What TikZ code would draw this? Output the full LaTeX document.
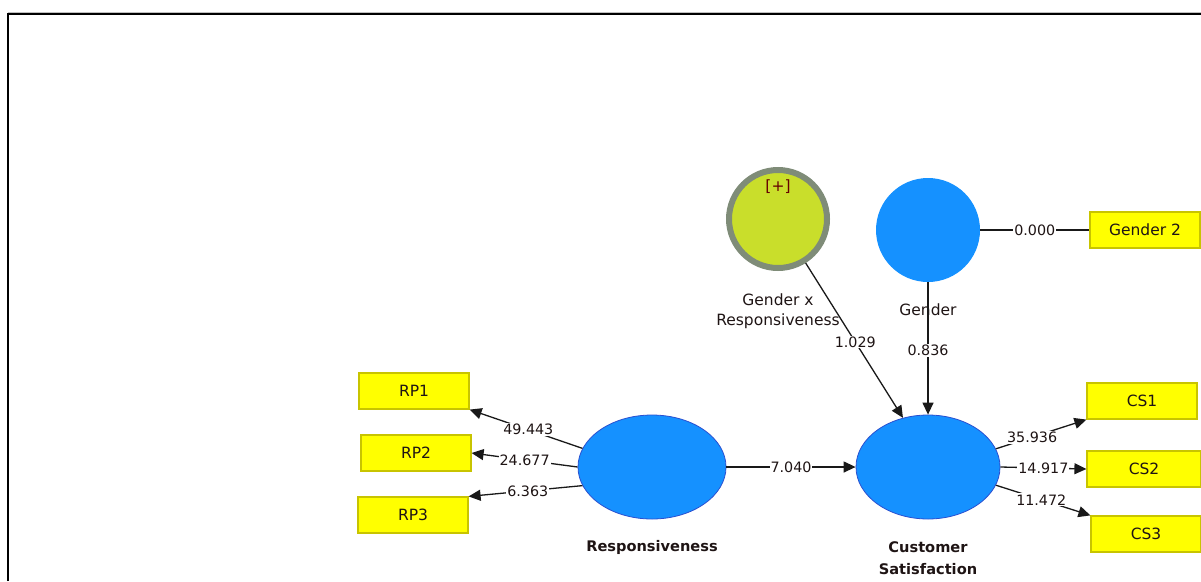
\documentclass[tikz,border=0pt]{standalone}
\usepackage{fontspec}
\setmainfont{DejaVu Sans}
\usetikzlibrary{arrows.meta,shapes.geometric}
\definecolor{lvblue}{HTML}{1591FF}
\definecolor{lvedge}{HTML}{2A4FD0}
\definecolor{ind}{HTML}{FFFF00}
\definecolor{indedge}{HTML}{C8C400}
\definecolor{modfill}{HTML}{C9DE2B}
\definecolor{modring}{HTML}{7F8C78}
\definecolor{txt}{HTML}{1E1414}
\tikzset{
  lv/.style={ellipse,fill=lvblue,draw=lvedge,line width=0.8pt,minimum width=148pt,minimum height=104pt,inner sep=0pt},
  indbox/.style={rectangle,fill=ind,draw=indedge,line width=1.2pt,minimum width=110pt,minimum height=36pt,inner sep=0pt,font=\fontsize{15.5}{17}\selectfont,text=txt},
  lbl/.style={font=\fontsize{15.5}{17}\selectfont,text=txt,inner sep=0.5pt},
  val/.style={fill=white,font=\fontsize{14.3}{16}\selectfont,text=txt,inner sep=1pt},
  blbl/.style={font=\bfseries\fontsize{14.6}{22}\selectfont,text=txt,align=center,inner sep=0pt},
  con/.style={line width=1.3pt,draw=black!90},
  arr/.style={con,-{Triangle[length=12pt,width=11pt]}},
}
\begin{document}
\begin{tikzpicture}[x=1pt,y=-1pt]
\useasboundingbox (0,0) rectangle (1201,581);
% frame
\draw[black!25,line width=1pt] (8,12) -- (1201,12);
\draw[black,line width=2pt] (8,581) -- (8,14) -- (1201,14);

% latent variables
\node[lv] (resp) at (652,467) {};
\node[lv,minimum width=144pt] (cs) at (928,467) {};
\node[circle,fill=lvblue,minimum size=104pt,inner sep=0pt] (gender) at (928,230) {};
\node[circle,fill=modfill,draw=modring,line width=6pt,minimum size=98pt,inner sep=0pt] (gxr) at (778,219) {};
\node[lbl,text=black!60!red] (plus) at (778,187) {[+]};

% labels
\node[lbl,align=center] (gxrlbl) at (778,311) {Gender x\\[3pt]Responsiveness};
\node[lbl] (genlbl) at (928,310) {Gender};
\node[blbl] (resplbl) at (652,547) {Responsiveness};
\node[blbl] (cslbl) at (928,558) {Customer\\Satisfaction};

% indicators
\node[indbox] (rp1) at (414,391) {RP1};
\node[indbox] (rp2) at (416,453) {RP2};
\node[indbox] (rp3) at (413,515) {RP3};
\node[indbox] (cs1) at (1142,401) {CS1};
\node[indbox,minimum width=114pt] (cs2) at (1144,469) {CS2};
\node[indbox] (cs3) at (1146,534) {CS3};
\node[indbox] (g2) at (1145,230) {Gender 2};

% structural paths
\draw[arr] (resp) -- node[val] {7.040} (cs);
\draw[arr] (gender) -- node[val,pos=0.515] {0.836} (cs.north);
\draw[arr] (gxr) -- node[val,pos=0.51] {1.029} (cs.117);
\draw[con] (gender) -- node[val] {0.000} (g2);

% outer loadings
\draw[arr] (resp.165) -- node[val,pos=0.48] {49.443} (rp1.south east);
\draw[arr] (resp.west) -- node[val,pos=0.5] {24.677} (rp2.east);
\draw[arr] (resp.195) -- node[val,pos=0.48] {6.363} (rp3.north east);
\draw[arr] (cs.15) -- node[val,pos=0.4] {35.936} (cs1.south west);
\draw[arr] (cs.east) -- node[val,pos=0.5] {14.917} (cs2.west);
\draw[arr] (cs.345) -- node[val,pos=0.48] {11.472} (cs3.north west);
\end{tikzpicture}
\end{document}
